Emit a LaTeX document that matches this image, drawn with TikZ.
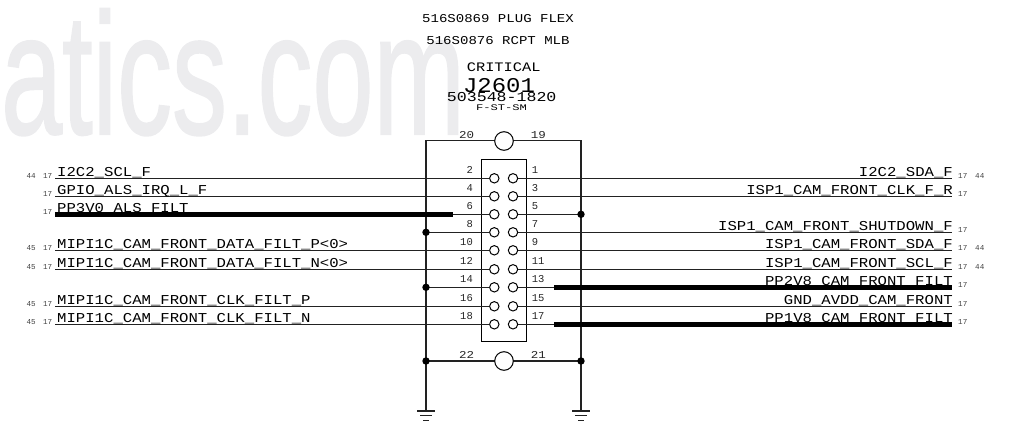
\documentclass[tikz,border=0pt]{standalone}
\usepackage{fontspec}
\setmainfont{Liberation Mono}
\newfontfamily\wm[FakeBold=1.2]{Liberation Sans}
\newfontfamily\sch[FakeStretch=1.15]{Liberation Mono}
\definecolor{wmgray}{HTML}{ECECEE}
\definecolor{wire}{HTML}{222222}
\tikzset{
 x=1pt,y=-1pt,
 lab/.style={inner sep=0pt,text=black,font=\sch\fontsize{13.6}{14}\selectfont},
 labl/.style={lab,anchor=base west},
 labr/.style={lab,anchor=base east},
 refn/.style={inner sep=0pt,text=black!75,font=\fontsize{7.6}{8}\selectfont},
 pinl/.style={inner sep=0pt,anchor=base east,text=black!85,font=\fontsize{10.5}{11}\selectfont},
 pinr/.style={inner sep=0pt,anchor=base west,text=black!85,font=\fontsize{10.5}{11}\selectfont},
 big/.style={inner sep=0pt,anchor=base west,text=black!85,xscale=1.19,font=\fontsize{10.5}{11}\selectfont},
 hd/.style={inner sep=0pt,anchor=base,text=black,font=\fontsize{#1}{#1}\selectfont},
 net/.style={draw=wire,line width=1.2pt},
 bus/.style={draw=black,line width=5.4pt},
 pad/.style={circle,draw=black,fill=white,line width=1pt,minimum size=9.4pt,inner sep=0pt},
 lug/.style={circle,draw=black,fill=white,line width=1pt,minimum size=18.6pt,inner sep=0pt},
 junc/.style={circle,fill=black,minimum size=7.4pt,inner sep=0pt},
 gnd/.style={draw=wire,line width=1.2pt},
}
\begin{document}
\begin{tikzpicture}
\useasboundingbox (0,0) rectangle (1012,433);
% watermark
\node[inner sep=0pt,anchor=base west,text=wmgray,xscale=0.635,font=\wm\fontsize{173}{173}\selectfont] (wmk) at (1,134) {atics.com};
% headings
\node[hd=12,xscale=1.17] (h1) at (498,22.7) {516S0869 PLUG FLEX};
\node[hd=12,xscale=1.17] (h2) at (498,45) {516S0876 RCPT MLB};
\node[hd=13,xscale=1.18] (h3) at (503.7,72) {CRITICAL};
\node[hd=21,xscale=1.14] (h4) at (499,93) {J2601};
\node[hd=13.6,xscale=1.22] (h5) at (501.7,102) {503548-1820};
\node[hd=8.6,xscale=1.41] (h6) at (501.5,110.5) {F-ST-SM};
% rails
\coordinate (tl) at (426,140.7);
\coordinate (tr) at (581,140.7);
\coordinate (bl) at (426,361);
\coordinate (br) at (581,361);
\coordinate (gl) at (426,411);
\coordinate (gr) at (581,411);
\draw[net] (bl) -- (tl) -- (tr) -- (br);
\draw[net] (bl) -- (br);
\draw[net] (bl) -- (gl);
\draw[net] (br) -- (gr);
\foreach \c in {gl,gr}{
 \draw[gnd] ([xshift=-9pt]\c) -- ([xshift=9pt]\c);
 \draw[gnd] ([xshift=-6pt,yshift=-4.7pt]\c) -- ([xshift=6pt,yshift=-4.7pt]\c);
 \draw[gnd] ([xshift=-3pt,yshift=-9.2pt]\c) -- ([xshift=3pt,yshift=-9.2pt]\c);
}
% housing
\node[draw=black,line width=1pt,fill=white,minimum width=45pt,minimum height=182.5pt,inner sep=0pt] (house) at (503.5,250.7) {};
\node[lug] (p20) at (504,141) {};
\node[lug] (p22) at (504,361) {};
\node[big] (n20) at (459,138.3) {20};
\node[big] (n19) at (530.7,138.3) {19};
\node[big] (n22) at (459,358.8) {22};
\node[big] (n21) at (530.7,358.8) {21};
% free ends
\foreach \n/\y in {2/178.3,4/196.3,6/214.3,8/232.3,10/250.3,12/269.3,14/287.3,16/306.3,18/324.3}{
 \node[pad] (P\n) at (494.3,\y) {};
 \node[pinl] (N\n) at (473,\y-5) {\n};
 \coordinate (L\n) at (55,\y);
}
\foreach \n/\y in {1/178.3,3/196.3,5/214.3,7/232.3,9/250.3,11/269.3,13/287.3,15/306.3,17/324.3}{
 \node[pad] (P\n) at (513,\y) {};
 \node[pinr] (N\n) at (531.7,\y-5) {\n};
 \coordinate (R\n) at (952,\y);
}
% left wires
\foreach \n in {2,4,10,12,16,18}{\draw[net] (L\n) -- (P\n);}
\draw[net] (L6) -- (P6);
\coordinate (T6) at (453,214.3);
\draw[bus] (L6) -- (T6);
\coordinate (J8) at (426,232.3);
\coordinate (J14) at (426,287.3);
\draw[net] (J8) -- (P8);
\draw[net] (J14) -- (P14);
% right wires
\foreach \n in {1,3,7,9,11,15}{\draw[net] (P\n) -- (R\n);}
\coordinate (J5) at (581,214.3);
\draw[net] (P5) -- (J5);
\coordinate (T13) at (554,287.3);
\coordinate (T17) at (554,324.3);
\draw[net] (P13) -- (T13);
\draw[net] (P17) -- (T17);
\draw[bus] (T13) -- (R13);
\draw[bus] (T17) -- (R17);
% junctions
\foreach \c in {J5,J8,J14,bl,br}{\node[junc] at (\c) {};}
% left labels
\foreach \t/\y in {I2C2\_SCL\_F/178.3,GPIO\_ALS\_IRQ\_L\_F/196.3,PP3V0\_ALS\_FILT/214.3,MIPI1C\_CAM\_FRONT\_DATA\_FILT\_P<0>/250.3,MIPI1C\_CAM\_FRONT\_DATA\_FILT\_N<0>/269.3,MIPI1C\_CAM\_FRONT\_CLK\_FILT\_P/306.3,MIPI1C\_CAM\_FRONT\_CLK\_FILT\_N/324.3}{
 \node[labl] at (57,\y-1.6) {\t};
 \node[refn,anchor=base east] at (52.5,\y+0.4) {17};
}
\foreach \y/\r in {178.3/44,250.3/45,269.3/45,306.3/45,324.3/45}{
 \node[refn,anchor=base east] at (36,\y+0.4) {\r};
}
% right labels
\foreach \t/\y in {I2C2\_SDA\_F/178.3,ISP1\_CAM\_FRONT\_CLK\_F\_R/196.3,ISP1\_CAM\_FRONT\_SHUTDOWN\_F/232.3,ISP1\_CAM\_FRONT\_SDA\_F/250.3,ISP1\_CAM\_FRONT\_SCL\_F/269.3,PP2V8\_CAM\_FRONT\_FILT/287.3,GND\_AVDD\_CAM\_FRONT/306.3,PP1V8\_CAM\_FRONT\_FILT/324.3}{
 \node[labr] at (953,\y-1.6) {\t};
 \node[refn,anchor=base west] at (958,\y+0.4) {17};
}
\foreach \y in {178.3,250.3,269.3}{
 \node[refn,anchor=base west] at (975,\y+0.4) {44};
}
\end{tikzpicture}
\end{document}
